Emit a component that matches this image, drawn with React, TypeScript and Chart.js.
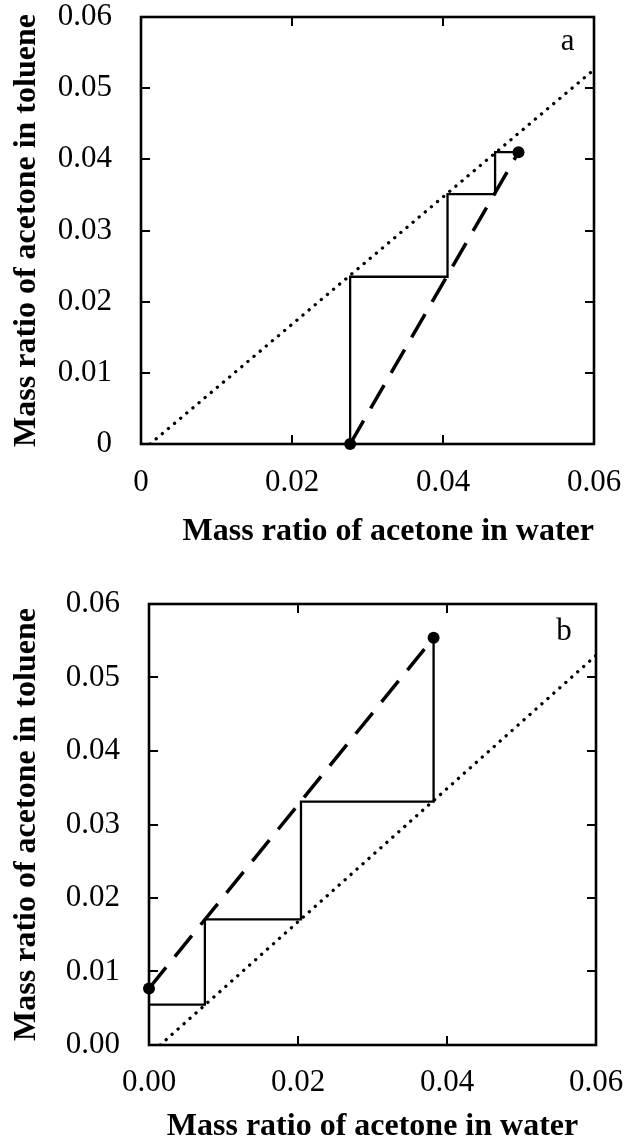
import React, { useEffect, useRef } from 'react';
import { Chart, registerables } from 'chart.js';

Chart.register(...registerables);

const FONT = '"Liberation Serif", "Times New Roman", serif';

// ---------- Panel a ----------
const eqA_x = [0.0012, 0.06];
const eqA_y = [0, 0.0526];
const opA_x = [0.0277, 0.05];
const opA_y = [0, 0.041];
const stepA_x = [0.0277, 0.0277, 0.0406, 0.0406, 0.0469, 0.0469, 0.05];
const stepA_y = [0, 0.0235, 0.0235, 0.0351, 0.0351, 0.041, 0.041];
const endA_x = [0.0277, 0.05];
const endA_y = [0, 0.041];
const xLabelsA = ['0', '0.02', '0.04', '0.06'];
const yLabelsA = ['0', '0.01', '0.02', '0.03', '0.04', '0.05', '0.06'];

// ---------- Panel b ----------
const eqB_x = [0.0015, 0.06];
const eqB_y = [0, 0.053];
const opB_x = [0, 0.0382];
const opB_y = [0.0077, 0.0554];
const stepB_x = [0.0382, 0.0382, 0.0204, 0.0204, 0.0075, 0.0075, 0];
const stepB_y = [0.0554, 0.0331, 0.0331, 0.0171, 0.0171, 0.0055, 0.0055];
const endB_x = [0, 0.0382];
const endB_y = [0.0077, 0.0554];
const xLabelsB = ['0.00', '0.02', '0.04', '0.06'];
const yLabelsB = ['0.00', '0.01', '0.02', '0.03', '0.04', '0.05', '0.06'];

const X_TITLE = 'Mass ratio of acetone in water';
const Y_TITLE = 'Mass ratio of acetone in toluene';

const zip = (xs: number[], ys: number[]) => xs.map((x, i) => ({ x, y: ys[i] }));

type PanelCfg = {
  eqX: number[]; eqY: number[];
  opX: number[]; opY: number[];
  stepX: number[]; stepY: number[];
  endX: number[]; endY: number[];
  xLabels: string[]; yLabels: string[];
  letter: string; letterX: number; letterY: number;
  top: number; height: number;
  padTop: number; padRight: number;
  yAxisW: number; xAxisH: number;
  xTickPad: number; yTickPad: number;
  xTitlePad: number; yTitlePad: number;
  xTitleAlign: 'start' | 'center' | 'end';
};

const panelA: PanelCfg = {
  eqX: eqA_x, eqY: eqA_y, opX: opA_x, opY: opA_y, stepX: stepA_x, stepY: stepA_y,
  endX: endA_x, endY: endA_y, xLabels: xLabelsA, yLabels: yLabelsA,
  letter: 'a', letterX: 0.0565, letterY: 0.0554,
  top: 0, height: 560, padTop: 17, padRight: 30, yAxisW: 141, xAxisH: 116,
  xTickPad: 23.5, yTickPad: 29, xTitlePad: 12, yTitlePad: 11, xTitleAlign: 'end',
};

const panelB: PanelCfg = {
  eqX: eqB_x, eqY: eqB_y, opX: opB_x, opY: opB_y, stepX: stepB_x, stepY: stepB_y,
  endX: endB_x, endY: endB_y, xLabels: xLabelsB, yLabels: yLabelsB,
  letter: 'b', letterX: 0.0557, letterY: 0.0551,
  top: 560, height: 583, padTop: 44, padRight: 28, yAxisW: 149, xAxisH: 98,
  xTickPad: 22.5, yTickPad: 29, xTitlePad: 0, yTitlePad: 11, xTitleAlign: 'center',
};

function makeFramePlugin(p: PanelCfg) {
  return {
    id: 'frame' + p.letter,
    beforeDatasetsDraw(chart: any) {
      const { ctx, chartArea } = chart;
      const { left, right, top, bottom } = chartArea;
      const xs = chart.scales.x;
      const ys = chart.scales.y;
      const TL = 9;
      ctx.save();
      ctx.strokeStyle = '#000';
      ctx.lineWidth = 2;
      ctx.beginPath();
      xs.ticks.forEach((t: any) => {
        const px = Math.round(xs.getPixelForValue(t.value));
        ctx.moveTo(px, bottom);
        ctx.lineTo(px, bottom - TL);
        ctx.moveTo(px, top);
        ctx.lineTo(px, top + TL);
      });
      ys.ticks.forEach((t: any) => {
        const py = Math.round(ys.getPixelForValue(t.value));
        ctx.moveTo(left, py);
        ctx.lineTo(left + TL, py);
        ctx.moveTo(right, py);
        ctx.lineTo(right - TL, py);
      });
      ctx.stroke();
      ctx.lineWidth = 2.6;
      ctx.strokeRect(left, top, right - left, bottom - top);
      // panel letter
      ctx.fillStyle = '#000';
      ctx.font = `31px ${FONT}`;
      ctx.textAlign = 'center';
      ctx.textBaseline = 'alphabetic';
      ctx.fillText(p.letter, xs.getPixelForValue(p.letterX), ys.getPixelForValue(p.letterY));
      ctx.restore();
    },
  };
}

const noOverflowPadding = (s: any) => {
  s.paddingLeft = 0;
  s.paddingRight = 0;
  s.paddingTop = 0;
  s.paddingBottom = 0;
};

function Panel({ p }: { p: PanelCfg }) {
  const ref = useRef<HTMLCanvasElement>(null);
  useEffect(() => {
    const canvas = ref.current;
    if (!canvas) return;
    const chart = new Chart(canvas, {
      type: 'scatter',
      data: {
        datasets: [
          {
            label: 'ends',
            data: zip(p.endX, p.endY),
            showLine: false,
            pointRadius: 6,
            pointBackgroundColor: '#000',
            pointBorderWidth: 0,
            clip: false,
          } as any,
          {
            label: 'stages',
            data: zip(p.stepX, p.stepY),
            showLine: true,
            borderColor: '#000',
            borderWidth: 2.3,
            pointRadius: 0,
            tension: 0,
            borderJoinStyle: 'miter',
          },
          {
            label: 'operating line',
            data: zip(p.opX, p.opY),
            showLine: true,
            borderColor: '#000',
            borderWidth: 3.5,
            borderDash: [27, 14],
            pointRadius: 0,
          },
          {
            label: 'equilibrium line',
            data: zip(p.eqX, p.eqY),
            showLine: true,
            borderColor: '#000',
            borderWidth: 3.3,
            borderDash: [0.1, 7.9],
            borderCapStyle: 'round',
            pointRadius: 0,
          },
        ],
      },
      options: {
        responsive: false,
        animation: false,
        events: [],
        layout: { padding: { top: p.padTop, right: p.padRight, left: 0, bottom: 0 } },
        plugins: { legend: { display: false }, tooltip: { enabled: false } },
        scales: {
          x: {
            type: 'linear',
            position: 'bottom',
            min: 0,
            max: 0.06,
            afterFit: (s: any) => { s.height = p.xAxisH; noOverflowPadding(s); },
            grid: { display: false, drawTicks: false },
            border: { display: false },
            ticks: {
              stepSize: 0.02,
              autoSkip: false,
              maxRotation: 0,
              padding: p.xTickPad,
              color: '#000',
              font: { family: FONT, size: 31, lineHeight: 1 },
              callback: (v: any) => p.xLabels[Math.round(Number(v) / 0.02)],
            },
            title: {
              display: true,
              text: X_TITLE,
              align: p.xTitleAlign,
              color: '#000',
              font: { family: FONT, size: 32, weight: 'bold', lineHeight: 1 },
              padding: { top: 0, bottom: p.xTitlePad },
            },
          },
          y: {
            type: 'linear',
            position: 'left',
            min: 0,
            max: 0.06,
            afterFit: (s: any) => { s.width = p.yAxisW; noOverflowPadding(s); },
            grid: { display: false, drawTicks: false },
            border: { display: false },
            ticks: {
              stepSize: 0.01,
              autoSkip: false,
              padding: p.yTickPad,
              color: '#000',
              font: { family: FONT, size: 31, lineHeight: 1 },
              callback: (v: any) => p.yLabels[Math.round(Number(v) / 0.01)],
            },
            title: {
              display: true,
              text: Y_TITLE,
              color: '#000',
              font: { family: FONT, size: 32, weight: 'bold', lineHeight: 1 },
              padding: { top: p.yTitlePad, bottom: 0 },
            },
          },
        },
      } as any,
      plugins: [makeFramePlugin(p)],
    });
    return () => chart.destroy();
  }, [p]);
  return (
    <canvas
      ref={ref}
      width={624}
      height={p.height}
      style={{ position: 'absolute', left: 0, top: p.top, width: 624, height: p.height }}
    />
  );
}

export default function App() {
  return (
    <div style={{ position: 'absolute', left: 0, top: 0, width: 624, height: 1143, background: '#fff' }}>
      <Panel p={panelA} />
      <Panel p={panelB} />
    </div>
  );
}
